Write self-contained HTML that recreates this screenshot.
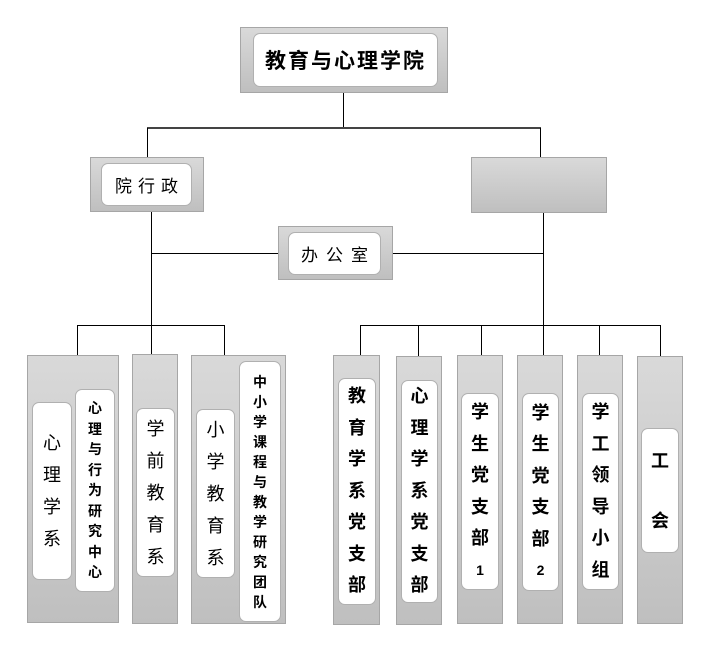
<!DOCTYPE html>
<html><head><meta charset="utf-8"><style>
body{margin:0;width:709px;height:651px;background:#fff;position:relative;overflow:hidden;font-family:"Liberation Sans","Noto Sans CJK SC","WenQuanYi Zen Hei",sans-serif;color:#000}
.g{position:absolute;box-sizing:border-box;border:1px solid #a6a6a6;background:linear-gradient(#d9d9d9,#bfbfbf)}
.w{position:absolute;box-sizing:border-box;border:1px solid #b0b0b0;background:#fff;border-radius:7px;display:flex;flex-direction:column;align-items:center;justify-content:center;text-align:center}
.h{position:absolute;height:1px;background:#000}
.v{position:absolute;width:1px;background:#000}
.t{font-size:18px;line-height:32px}
.s{font-size:14px;line-height:20.5px;font-weight:bold}
</style></head><body>
<!-- lines -->
<div class="v" style="left:343px;top:93px;height:35px"></div>
<div class="h" style="left:147px;top:127px;width:394px;background:#444;height:2px"></div>
<div class="v" style="left:147px;top:128px;height:29px"></div>
<div class="v" style="left:540px;top:128px;height:29px"></div>
<div class="v" style="left:151px;top:212px;height:143px"></div>
<div class="v" style="left:543px;top:213px;height:142px"></div>
<div class="h" style="left:151px;top:253px;width:127px"></div>
<div class="h" style="left:393px;top:253px;width:150px"></div>
<div class="h" style="left:77px;top:325px;width:148px"></div>
<div class="v" style="left:77px;top:325px;height:30px"></div>
<div class="v" style="left:224px;top:325px;height:30px"></div>
<div class="h" style="left:360px;top:325px;width:301px"></div>
<div class="v" style="left:360px;top:325px;height:30px"></div>
<div class="v" style="left:418px;top:325px;height:31px"></div>
<div class="v" style="left:481px;top:325px;height:30px"></div>
<div class="v" style="left:599px;top:325px;height:30px"></div>
<div class="v" style="left:660px;top:325px;height:31px"></div>

<div class="g" style="left:240px;top:27px;width:208px;height:66px"></div>
<div class="w" style="left:253px;top:33px;width:185px;height:54px;font-size:21px;font-weight:bold;letter-spacing:2px">教育与心理学院</div>

<div class="g" style="left:90px;top:157px;width:114px;height:55px"></div>
<div class="w" style="left:101px;top:163px;width:91px;height:43px;font-size:17px;letter-spacing:6px;padding-left:6px">院行政</div>

<div class="g" style="left:471px;top:157px;width:136px;height:56px"></div>

<div class="g" style="left:278px;top:226px;width:115px;height:54px"></div>
<div class="w" style="left:288px;top:232px;width:93px;height:43px;font-size:17px;letter-spacing:8px;padding-left:8px">办公室</div>

<!-- left bottom -->
<div class="g" style="left:27px;top:355px;width:92px;height:268px"></div>
<div class="w t" style="left:32px;top:402px;width:40px;height:178px">心<br>理<br>学<br>系</div>
<div class="w s" style="left:75px;top:389px;width:40px;height:203px">心<br>理<br>与<br>行<br>为<br>研<br>究<br>中<br>心</div>

<div class="g" style="left:132px;top:354px;width:46px;height:270px"></div>
<div class="w t" style="left:136px;top:408px;width:39px;height:169px">学<br>前<br>教<br>育<br>系</div>

<div class="g" style="left:191px;top:355px;width:95px;height:269px"></div>
<div class="w t" style="left:196px;top:409px;width:39px;height:169px">小<br>学<br>教<br>育<br>系</div>
<div class="w s" style="left:239px;top:361px;width:42px;height:261px;line-height:20px">中<br>小<br>学<br>课<br>程<br>与<br>教<br>学<br>研<br>究<br>团<br>队</div>

<!-- right bottom -->
<div class="g" style="left:333px;top:355px;width:47px;height:270px"></div>
<div class="w t" style="left:338px;top:378px;width:38px;height:227px;line-height:31.5px;font-weight:bold">教<br>育<br>学<br>系<br>党<br>支<br>部</div>
<div class="g" style="left:396px;top:356px;width:46px;height:269px"></div>
<div class="w t" style="left:401px;top:380px;width:37px;height:223px;line-height:31.5px;font-weight:bold">心<br>理<br>学<br>系<br>党<br>支<br>部</div>
<div class="g" style="left:457px;top:355px;width:46px;height:269px"></div>
<div class="w t" style="left:461px;top:393px;width:38px;height:197px;line-height:31.5px;font-weight:bold">学<br>生<br>党<br>支<br>部<br><span style="font-size:14px">1</span></div>
<div class="g" style="left:517px;top:355px;width:46px;height:269px"></div>
<div class="w t" style="left:522px;top:393px;width:37px;height:198px;line-height:31.5px;font-weight:bold">学<br>生<br>党<br>支<br>部<br><span style="font-size:14px">2</span></div>
<div class="g" style="left:577px;top:355px;width:46px;height:269px"></div>
<div class="w t" style="left:582px;top:393px;width:37px;height:197px;line-height:31.5px;font-weight:bold">学<br>工<br>领<br>导<br>小<br>组</div>
<div class="g" style="left:637px;top:356px;width:46px;height:268px"></div>
<div class="w t" style="left:641px;top:428px;width:38px;height:125px;line-height:60px;font-weight:bold">工<br>会</div>
</body></html>
